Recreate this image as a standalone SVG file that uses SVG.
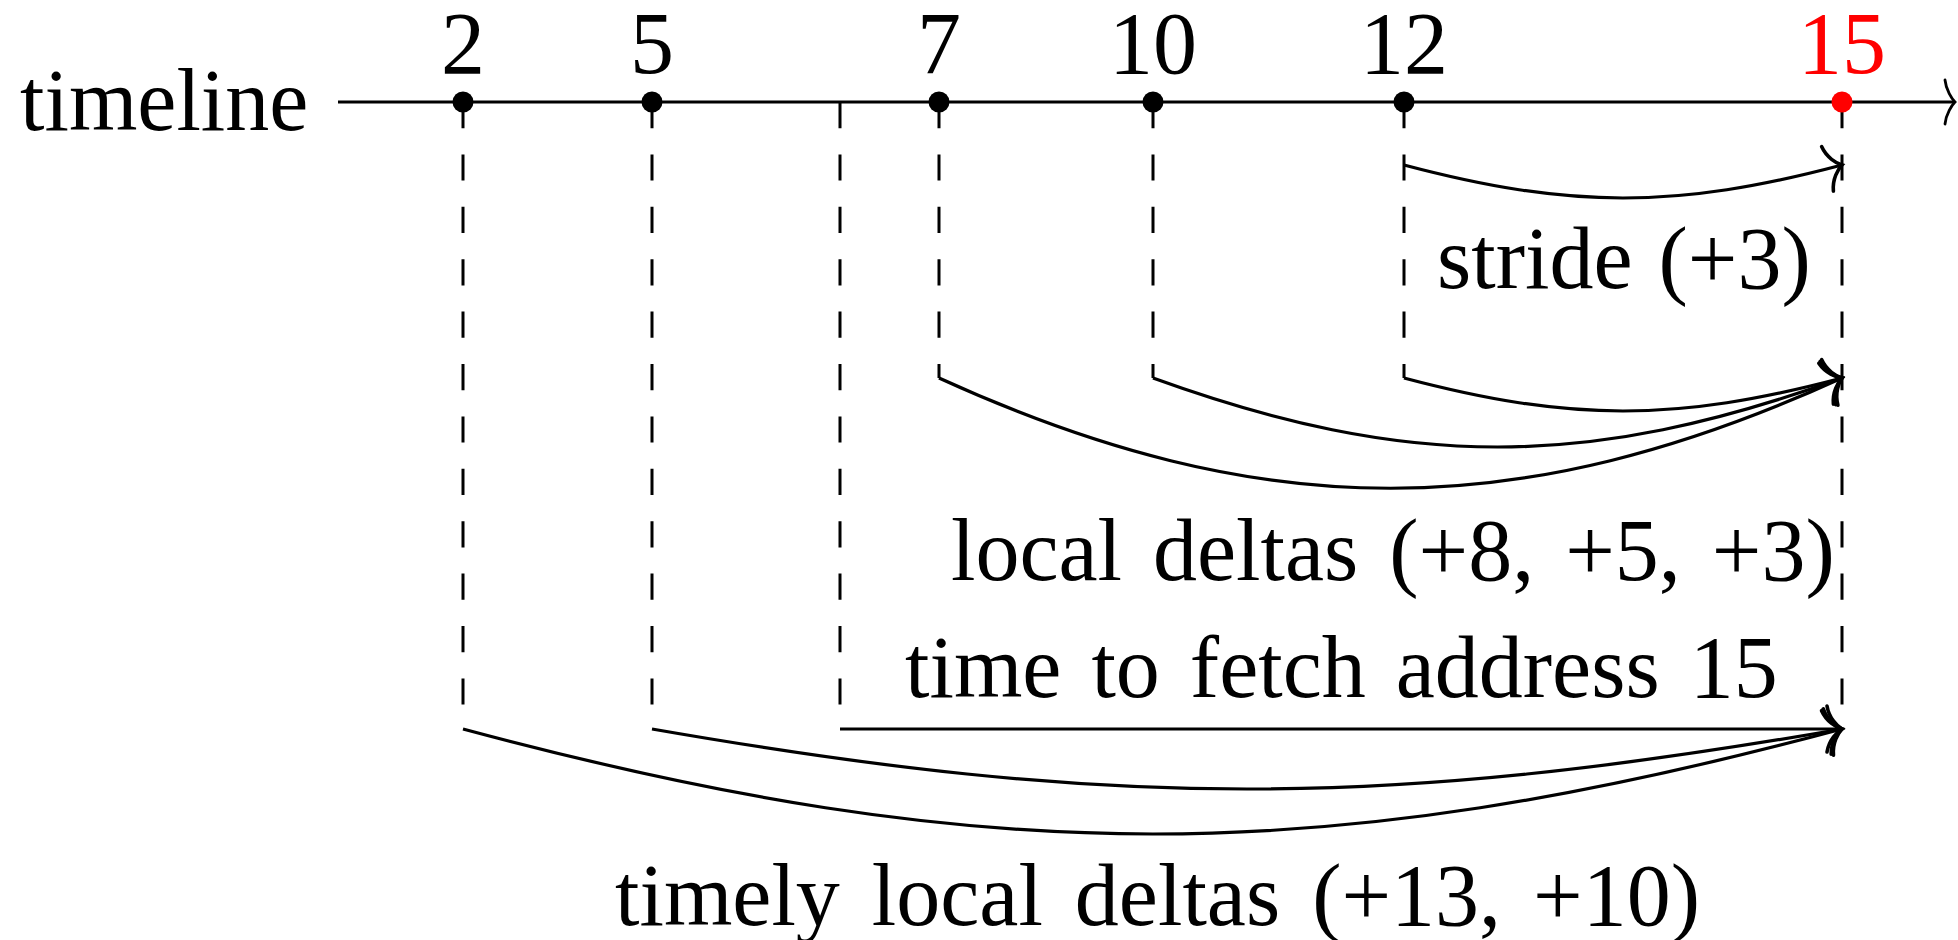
<svg xmlns="http://www.w3.org/2000/svg" width="1958" height="940" viewBox="0 0 1958 940">
  <style>
    .lbl { font-family: "Liberation Serif", "Times New Roman", serif; font-size: 88px; fill: #000; word-spacing: 8px; }
    .num { text-anchor: middle; }
    .red { fill: #ff0000; }
    .axis { stroke: #000; stroke-width: 3.2; fill: none; }
    .guide { stroke: #000; stroke-width: 3; fill: none; stroke-dasharray: 26.2 26.2; }
    .arc { stroke: #000; stroke-width: 3.2; fill: none; marker-end: url(#to); }
  </style>
  <defs>
    <!-- curved "to" style arrow tip -->
    <marker id="to" markerUnits="userSpaceOnUse" viewBox="-20 -28 26 56" markerWidth="26" markerHeight="56" refX="0" refY="0" orient="auto" overflow="visible">
      <path d="M -15,-23 C -13,-11 -5,-3 0,0 C -5,3 -13,11 -15,23" fill="none" stroke="#000" stroke-width="3.6" stroke-linecap="round"/>
    </marker>
    <marker id="toAxis" markerUnits="userSpaceOnUse" viewBox="-20 -28 26 56" markerWidth="26" markerHeight="56" refX="0" refY="0" orient="auto" overflow="visible">
      <path d="M -10,-22 C -9,-12 -3,-3 0,0 C -3,3 -9,12 -10,22" fill="none" stroke="#000" stroke-width="2.8" stroke-linecap="round"/>
    </marker>
  </defs>

  <!-- time axis -->
  <g id="axis">
    <text class="lbl" x="20" y="130">timeline</text>
    <line class="axis" x1="338" y1="102" x2="1955" y2="102" marker-end="url(#toAxis)"/>
  </g>

  <!-- dashed guides dropped from each point -->
  <g id="guides">
    <line class="guide" x1="463" y1="102" x2="463" y2="729"/>
    <line class="guide" x1="652" y1="102" x2="652" y2="729"/>
    <line class="guide" x1="840" y1="102" x2="840" y2="729"/>
    <line class="guide" x1="939" y1="102" x2="939" y2="378"/>
    <line class="guide" x1="1153" y1="102" x2="1153" y2="378"/>
    <line class="guide" x1="1404" y1="102" x2="1404" y2="378"/>
    <line class="guide" x1="1842" y1="102" x2="1842" y2="729"/>
  </g>

  <!-- access points on the timeline -->
  <g id="p2"><circle cx="463" cy="102" r="10.5"/><text class="lbl num" x="463" y="73">2</text></g>
  <g id="p5"><circle cx="652" cy="102" r="10.5"/><text class="lbl num" x="652" y="73">5</text></g>
  <g id="p7"><circle cx="939" cy="102" r="10.5"/><text class="lbl num" x="939" y="73">7</text></g>
  <g id="p10"><circle cx="1153" cy="102" r="10.5"/><text class="lbl num" x="1153" y="73">10</text></g>
  <g id="p12"><circle cx="1404" cy="102" r="10.5"/><text class="lbl num" x="1404" y="73">12</text></g>
  <g id="p15"><circle cx="1842" cy="102" r="10.5" fill="#ff0000"/><text class="lbl num red" x="1842" y="73">15</text></g>

  <!-- delta arrows -->
  <g id="connectors">
    <path class="arc" d="M 1404,165 C 1570,209 1676,209 1842,165"/>
    <path class="arc" d="M 1404,378 C 1570,422 1676,422 1842,378"/>
    <path class="arc" d="M 1153,378 C 1407,470 1588,470 1842,378"/>
    <path class="arc" d="M 939,378 C 1261,525 1520,525 1842,378"/>
    <path class="arc" d="M 840,729 L 1842,729"/>
    <path class="arc" d="M 652,729 C 1111,809 1383,809 1842,729"/>
    <path class="arc" d="M 463,729 C 985,869 1321,869 1842,729"/>
  </g>

  <!-- captions -->
  <g id="captions">
    <text class="lbl" x="1437" y="288" style="word-spacing:4px">stride (+3)</text>
    <text class="lbl" x="951" y="580" style="word-spacing:9px">local deltas (+8, +5, +3)</text>
    <text class="lbl" x="905" y="697">time to fetch address 15</text>
    <text class="lbl" x="615" y="925" style="word-spacing:10px">timely local deltas (+13, +10)</text>
  </g>
</svg>
